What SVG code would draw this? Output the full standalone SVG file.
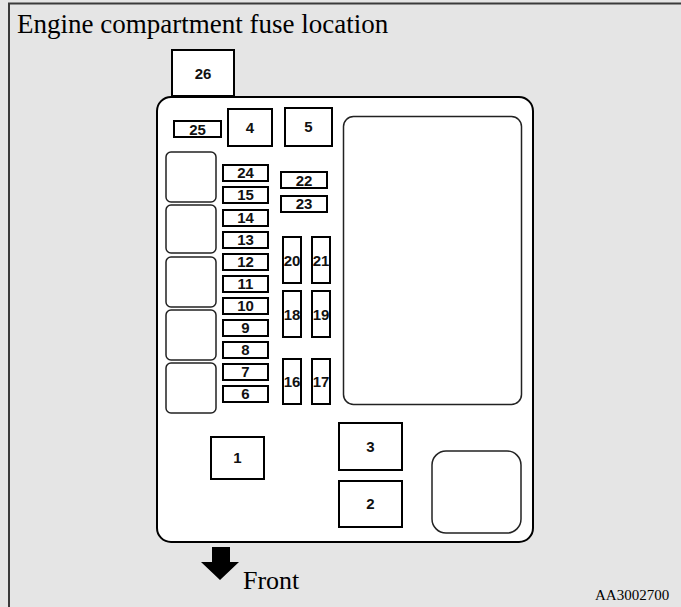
<svg xmlns="http://www.w3.org/2000/svg" width="681" height="607" viewBox="0 0 681 607">
<style>
.f{fill:#fff;stroke:#000;stroke-width:2}
.r{fill:#fff;stroke:#222;stroke-width:1.5}
.n{font-family:"Liberation Sans",Arial,sans-serif;font-weight:bold;font-size:15px;text-anchor:middle;fill:#111}
.s{font-family:"Liberation Serif","Times New Roman",serif;fill:#000}
</style>
<rect x="0" y="0" width="681" height="607" fill="#e5e5e5"/>
<path d="M9,607 V3.5 H681" fill="none" stroke="#3a3a3a" stroke-width="2"/>
<text class="s" x="17" y="33" font-size="27">Engine compartment fuse location</text>

<g id="fuse26"><rect class="f" x="172" y="50" width="62" height="46"/><text class="n" x="203" y="79">26</text></g>
<g id="box"><rect x="157" y="97" width="376" height="445" rx="14" fill="#fff" stroke="#000" stroke-width="2"/></g>
<g id="block"><rect class="r" x="343.5" y="116.5" width="178" height="288" rx="10"/></g>
<g id="fuse25"><rect class="f" x="174" y="121" width="47" height="16"/><text class="n" x="197.5" y="134.5">25</text></g>
<g id="fuse4"><rect class="f" x="228" y="109" width="44" height="37"/><text class="n" x="250" y="132.5">4</text></g>
<g id="fuse5"><rect class="f" x="285" y="108" width="47" height="38"/><text class="n" x="308.5" y="132">5</text></g>

<g id="relays">
<rect class="r" x="166" y="152" width="50" height="50" rx="5"/>
<rect class="r" x="166" y="205" width="50" height="48" rx="5"/>
<rect class="r" x="166" y="257" width="50" height="50" rx="5"/>
<rect class="r" x="166" y="310" width="50" height="50" rx="5"/>
<rect class="r" x="166" y="363" width="50" height="50" rx="5"/>
</g>

<g id="fuse24"><rect class="f" x="223" y="165" width="45" height="16"/><text class="n" x="245.5" y="178">24</text></g>
<g id="fuse15"><rect class="f" x="223" y="187" width="45" height="16"/><text class="n" x="245.5" y="200">15</text></g>
<g id="fuse14"><rect class="f" x="223" y="210" width="45" height="16"/><text class="n" x="245.5" y="223">14</text></g>
<g id="fuse13"><rect class="f" x="223" y="232" width="45" height="16"/><text class="n" x="245.5" y="245">13</text></g>
<g id="fuse12"><rect class="f" x="223" y="254" width="45" height="16"/><text class="n" x="245.5" y="267">12</text></g>
<g id="fuse11"><rect class="f" x="223" y="276" width="45" height="16"/><text class="n" x="245.5" y="289">11</text></g>
<g id="fuse10"><rect class="f" x="223" y="298" width="45" height="16"/><text class="n" x="245.5" y="311">10</text></g>
<g id="fuse9"><rect class="f" x="223" y="320" width="45" height="16"/><text class="n" x="245.5" y="333">9</text></g>
<g id="fuse8"><rect class="f" x="223" y="342" width="45" height="16"/><text class="n" x="245.5" y="355">8</text></g>
<g id="fuse7"><rect class="f" x="223" y="364" width="45" height="16"/><text class="n" x="245.5" y="377">7</text></g>
<g id="fuse6"><rect class="f" x="223" y="386" width="45" height="16"/><text class="n" x="245.5" y="399">6</text></g>

<g id="fuse22"><rect class="f" x="281" y="172" width="46" height="16"/><text class="n" x="304" y="185.5">22</text></g>
<g id="fuse23"><rect class="f" x="281" y="196" width="46" height="16"/><text class="n" x="304" y="209">23</text></g>

<g id="fuse20"><rect class="f" x="283" y="237" width="18" height="46"/><text class="n" x="292" y="265.5">20</text></g>
<g id="fuse21"><rect class="f" x="312" y="237" width="18" height="46"/><text class="n" x="321" y="265.5">21</text></g>
<g id="fuse18"><rect class="f" x="283" y="291" width="18" height="46"/><text class="n" x="292" y="319.5">18</text></g>
<g id="fuse19"><rect class="f" x="312" y="291" width="18" height="46"/><text class="n" x="321" y="319.5">19</text></g>
<g id="fuse16"><rect class="f" x="283" y="359" width="18" height="45"/><text class="n" x="292" y="387">16</text></g>
<g id="fuse17"><rect class="f" x="312" y="359" width="18" height="45"/><text class="n" x="321" y="387">17</text></g>

<g id="fuse1"><rect class="f" x="211" y="437" width="53" height="42"/><text class="n" x="237.5" y="463">1</text></g>
<g id="fuse3"><rect class="f" x="339" y="423" width="63" height="47"/><text class="n" x="370.5" y="452">3</text></g>
<g id="fuse2"><rect class="f" x="339" y="481" width="63" height="46"/><text class="n" x="370.5" y="509">2</text></g>
<g id="relayBR"><rect class="r" x="432" y="451" width="89" height="82" rx="14"/></g>

<g id="front">
<polygon points="212,547 230,547 230,562 239,562 220,580 201,562 212,562" fill="#000"/>
<text class="s" x="243" y="589" font-size="26">Front</text>
</g>
<text class="s" x="595" y="600" font-size="15">AA3002700</text>
</svg>
